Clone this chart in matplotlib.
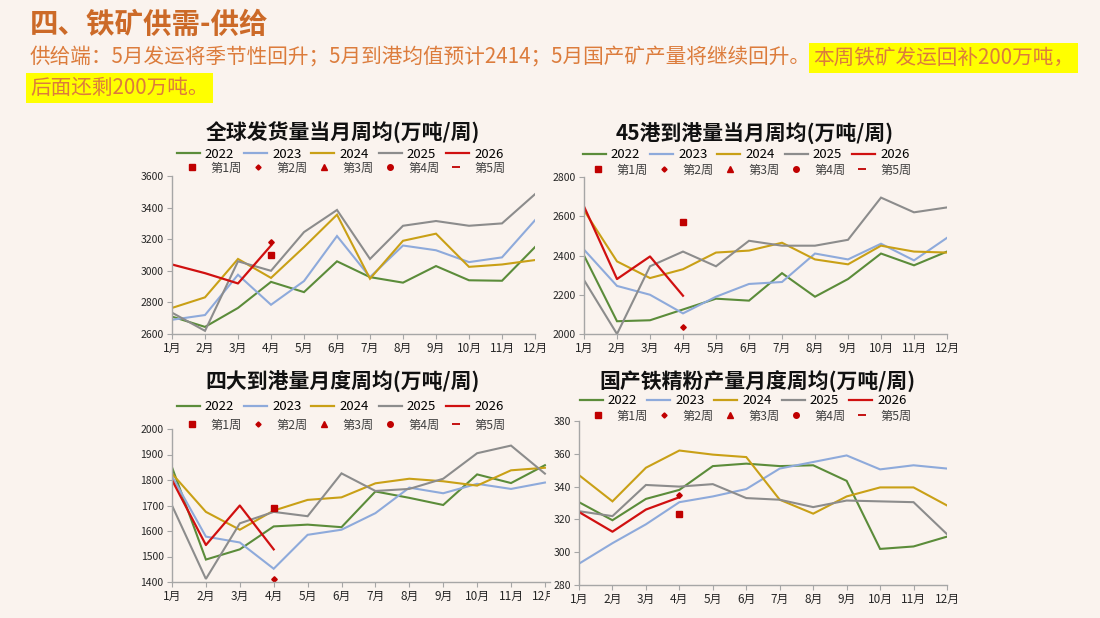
import matplotlib.pyplot as plt
from matplotlib.lines import Line2D
from matplotlib.transforms import Bbox

plt.rcParams['font.family'] = ['Noto Sans CJK SC', 'DejaVu Sans']

months = list(range(1, 13))
month_labels = ['{}月'.format(m) for m in months]
years = ['2022', '2023', '2024', '2025', '2026']
week_labels = ['第1周', '第2周', '第3周', '第4周', '第5周']

# 全球发货量当月周均
ship22 = [2710, 2645, 2765, 2930, 2865, 3060, 2960, 2925, 3030, 2940, 2937, 3150]
ship23 = [2690, 2720, 2975, 2785, 2935, 3220, 2960, 3160, 3130, 3055, 3085, 3320]
ship24 = [2765, 2832, 3075, 2955, 3150, 3355, 2950, 3190, 3235, 3025, 3040, 3068]
ship25 = [2735, 2620, 3060, 3000, 3245, 3385, 3075, 3285, 3315, 3285, 3300, 3485]
ship26 = [3040, 2985, 2920, 3160]
ship_wk1 = [3100]
ship_wk2 = [3185]

# 45港到港量当月周均
port22 = [2400, 2065, 2070, 2125, 2180, 2170, 2310, 2190, 2280, 2410, 2350, 2420]
port23 = [2430, 2245, 2200, 2105, 2190, 2255, 2265, 2410, 2380, 2460, 2375, 2490]
port24 = [2630, 2370, 2285, 2330, 2415, 2425, 2465, 2380, 2355, 2450, 2420, 2415]
port25 = [2275, 2000, 2345, 2420, 2345, 2475, 2450, 2450, 2480, 2695, 2620, 2645]
port26 = [2650, 2280, 2395, 2195]
port_wk1 = [2570]
port_wk2 = [2035]

# 四大到港量月度周均
big22 = [1850, 1488, 1528, 1618, 1625, 1615, 1755, 1730, 1702, 1822, 1788, 1858]
big23 = [1815, 1578, 1555, 1452, 1585, 1605, 1670, 1770, 1748, 1785, 1765, 1790]
big24 = [1825, 1675, 1605, 1680, 1722, 1732, 1787, 1805, 1795, 1778, 1838, 1848]
big25 = [1700, 1412, 1630, 1675, 1658, 1826, 1757, 1765, 1805, 1905, 1935, 1825]
big26 = [1800, 1545, 1700, 1528]
big_wk1 = [1692]
big_wk2 = [1412]

# 国产铁精粉产量月度周均
conc22 = [330.5, 319.5, 332.5, 338, 352.5, 354, 352.5, 353, 343.5, 302, 303.5, 309.5]
conc23 = [293, 305.5, 317, 330.5, 334, 338.5, 351, 355, 359, 350.5, 353, 351]
conc24 = [347, 331, 351.5, 362, 359.5, 358, 332, 323.5, 334, 339.5, 339.5, 328.5]
conc25 = [325, 322, 341, 340, 341.5, 333, 332, 327.5, 331.5, 331, 330.5, 311]
conc26 = [324.5, 312.5, 326, 333.5]
conc_wk1 = [323]
conc_wk2 = [335]

wk_month = [4]

colors = ['#5b8c3a', '#8eaadb', '#c9a016', '#8c8c8c', '#d01010']
red = '#c00000'
bg = '#faf3ee'
W, H = 1100, 618

fig = plt.figure(figsize=(11, 6.18), dpi=100, facecolor=bg)

# header
fig.text(30 / W, 1 - 25 / H, '四、铁矿供需-供给', fontsize=20.5, fontweight='bold',
         color='#cc6a28', va='center', ha='left')
t1 = fig.text(30 / W, 1 - 58 / H,
              '供给端：5月发运将季节性回升；5月到港均值预计2414；5月国产矿产量将继续回升。',
              fontsize=14.85, color='#dc7c3c', va='center', ha='left')
fig.canvas.draw()
ext = t1.get_window_extent(fig.canvas.get_renderer())
fig.text(ext.x1 / W + 2 / W, 1 - 58 / H, '本周铁矿发运回补200万吨，', fontsize=14.85,
         color='#dc7c3c', va='center', ha='left',
         bbox=dict(boxstyle='square,pad=0.2', facecolor='#ffff00', edgecolor='none'))
fig.text(30 / W, 1 - 88 / H, '后面还剩200万吨。', fontsize=14.85,
         color='#dc7c3c', va='center', ha='left',
         bbox=dict(boxstyle='square,pad=0.2', facecolor='#ffff00', edgecolor='none'))


def make_panel(rect, series, cur, wk1, wk2, yticks, title, title_x, title_y,
               leg1_x, leg1_y, leg2_x, leg2_y, xmax=12):
    left, top, right, bottom = rect
    ax = fig.add_axes([left / W, 1 - bottom / H, (right - left) / W, (bottom - top) / H])
    ax.set_facecolor(bg)
    for vals, c in zip(series, colors[:4]):
        ax.plot(months, vals, color=c, lw=1.5, solid_joinstyle='miter')
    ax.plot(months[:len(cur)], cur, color=colors[4], lw=1.6)
    ax.plot(wk_month, wk1, 's', color=red, ms=4.5)
    ax.plot(wk_month, wk2, 'D', color=red, ms=2.8)
    ax.set_xlim(1, xmax)
    ax.set_ylim(yticks[0], yticks[-1])
    ax.set_xticks(months)
    ax.set_xticklabels(month_labels)
    ax.set_yticks(yticks)
    for s in ['top', 'right']:
        ax.spines[s].set_visible(False)
    for s in ['left', 'bottom']:
        ax.spines[s].set_color('#a6a6a6')
        ax.spines[s].set_linewidth(1.0)
    ax.tick_params(axis='both', direction='out', length=3.5, color='#a6a6a6',
                   labelsize=7.5, labelcolor='#262626', pad=2.5)
    ax.tick_params(axis='x', labelsize=8.5)
    fig.text(title_x / W, 1 - title_y / H, title, fontsize=15, fontweight='bold',
             color='#111111', ha='center', va='center')
    h1 = [Line2D([], [], color=c, lw=1.6) for c in colors]
    fig.legend(h1, years, loc='center', bbox_to_anchor=(leg1_x / W, 1 - leg1_y / H),
               ncol=5, frameon=False, fontsize=9.5, handlelength=1.75,
               handletextpad=0.38, columnspacing=0.75, borderpad=0, borderaxespad=0)
    h2 = [Line2D([], [], marker='s', ls='none', color=red, ms=4),
          Line2D([], [], marker='D', ls='none', color=red, ms=2.6),
          Line2D([], [], marker='^', ls='none', color=red, ms=4),
          Line2D([], [], marker='o', ls='none', color=red, ms=4),
          Line2D([], [], marker='_', ls='none', color=red, ms=6, mew=1.3)]
    fig.legend(h2, week_labels, loc='center', bbox_to_anchor=(leg2_x / W, 1 - leg2_y / H),
               ncol=5, frameon=False, fontsize=8.8, handlelength=1.0,
               handletextpad=1.0, columnspacing=0.85, borderpad=0, borderaxespad=0,
               labelcolor='#404040')
    return ax


make_panel((172, 176, 535, 334), [ship22, ship23, ship24, ship25], ship26, ship_wk1, ship_wk2,
           list(range(2600, 3601, 200)), '全球发货量当月周均(万吨/周)', 343, 133,
           340, 154, 346, 168)
make_panel((584, 177, 947, 334), [port22, port23, port24, port25], port26, port_wk1, port_wk2,
           list(range(2000, 2801, 200)), '45港到港量当月周均(万吨/周)', 755, 134,
           746, 155, 752, 170)
ax3 = make_panel((172, 429, 550, 582), [big22, big23, big24, big25], big26, big_wk1, big_wk2,
                 list(range(1400, 2001, 100)), '四大到港量月度周均(万吨/周)', 343, 382,
                 340, 407, 346, 425, xmax=12.15)
make_panel((579, 421, 947, 585), [conc22, conc23, conc24, conc25], conc26, conc_wk1, conc_wk2,
           list(range(280, 381, 20)), '国产铁精粉产量月度周均(万吨/周)', 757, 382,
           743, 401, 752, 416)

# the lower-left chart is cut off at its right edge
clip = Bbox.from_extents(0, 0, 550, H)
for lab in ax3.get_xticklabels():
    lab.set_clip_box(clip)
    lab.set_clip_on(True)

fig.savefig('out.png', dpi=100, facecolor=bg)
